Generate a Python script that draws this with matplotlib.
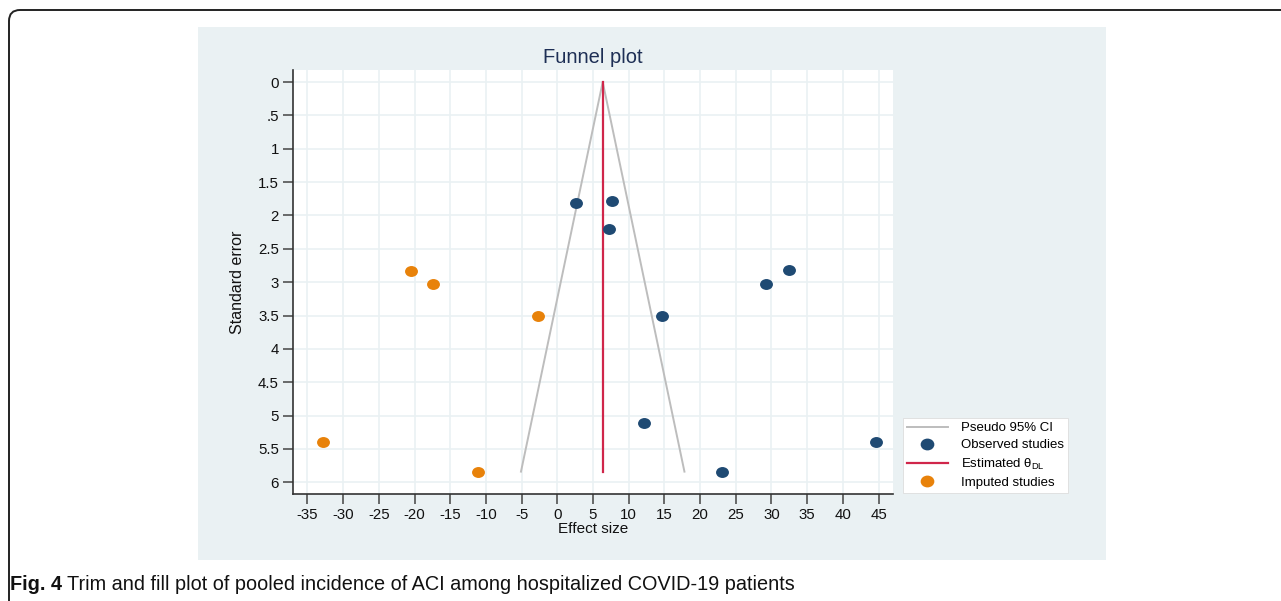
import numpy as np
import matplotlib.pyplot as plt
from matplotlib.lines import Line2D
from matplotlib.markers import MarkerStyle
from matplotlib.patches import PathPatch, Rectangle
from matplotlib.path import Path
from matplotlib.transforms import Affine2D

# observed studies (effect size, standard error)
obs_es = [2.6, 7.7, 7.2, 14.7, 29.3, 32.4, 12.2, 23.1, 44.7]
obs_se = [1.81, 1.79, 2.20, 3.50, 3.03, 2.82, 5.11, 5.85, 5.40]

# imputed (trim and fill) studies
imp_es = [-20.5, -17.4, -2.75, -32.8, -11.1]
imp_se = [2.83, 3.03, 3.51, 5.39, 5.84]

theta_dl = 6.36
se_max = 5.84

x_ticks = list(range(-35, 50, 5))
y_ticks = [0, 0.5, 1, 1.5, 2, 2.5, 3, 3.5, 4, 4.5, 5, 5.5, 6]
y_tick_labels = ["0", ".5", "1", "1.5", "2", "2.5", "3", "3.5", "4", "4.5", "5", "5.5", "6"]

NAVY = "#1F4A73"
ORANGE = "#E8820A"
RED = "#D0264A"
GRAY = "#BDBDBD"
PANEL = "#EAF1F3"

plt.rcParams["font.family"] = ["Liberation Sans", "DejaVu Sans"]
plt.rcParams["axes.unicode_minus"] = False

W, H = 1281, 601
fig = plt.figure(figsize=(W / 100, H / 100), dpi=100)


def fx(px):
    return px / W


def fy(py):
    return 1 - py / H


# outer frame of the journal figure: left and top edges with a rounded corner
px_trans = Affine2D().scale(1, -1).translate(0, H)
frame_path = Path([(9, 620), (9, 21), (9, 10), (20, 10), (1300, 10)],
                  [Path.MOVETO, Path.LINETO, Path.CURVE3, Path.CURVE3, Path.LINETO])
fig.patches.append(PathPatch(frame_path, transform=px_trans, fill=False,
                             edgecolor="#222222", linewidth=1.4))

# graph region
fig.patches.append(Rectangle((fx(198), fy(560)), fx(1106) - fx(198), fy(27) - fy(560),
                             transform=fig.transFigure, facecolor=PANEL,
                             edgecolor="none", zorder=0))

ax = fig.add_axes([fx(292.7), fy(494.3), fx(893.3) - fx(292.7), fy(70) - fy(494.3)])
ax.set_zorder(2)
ax.set_facecolor("white")

ax.set_xlim(-37.06, 47.06)
ax.set_ylim(6.18, -0.18)

ax.set_xticks(x_ticks)
ax.set_yticks(y_ticks)
ax.set_yticklabels(y_tick_labels)
ax.grid(True, color="#EAF1F3", linewidth=1.2)
ax.set_axisbelow(True)

for s in ["top", "right"]:
    ax.spines[s].set_visible(False)
for s in ["left", "bottom"]:
    ax.spines[s].set_color("#333333")
    ax.spines[s].set_linewidth(1.2)

ax.tick_params(axis="both", length=7, width=1.1, color="#444444",
               labelsize=10.8, labelcolor="#111111")
ax.tick_params(axis="y", pad=3)
ax.tick_params(axis="x", pad=3)

# pseudo 95% CI funnel
ax.plot([theta_dl - 1.96 * se_max, theta_dl, theta_dl + 1.96 * se_max],
        [se_max, 0, se_max], color=GRAY, linewidth=1.4, zorder=2)

# estimated effect
ax.plot([theta_dl, theta_dl], [0, se_max], color=RED, linewidth=1.6, zorder=3)

dot = MarkerStyle("o", transform=Affine2D().scale(1.18, 1.0))
ax.scatter(obs_es, obs_se, s=62, marker=dot, color=NAVY, linewidths=0, zorder=4)
ax.scatter(imp_es, imp_se, s=62, marker=dot, color=ORANGE, linewidths=0, zorder=4)

ax.set_title("Funnel plot", fontsize=14.5, color="#1E2F55", pad=5)
ax.set_xlabel("Effect size", fontsize=11, color="#111111", labelpad=0)
ax.set_ylabel("Standard error", fontsize=11.5, color="#111111", labelpad=9)

handles = [
    Line2D([], [], color=GRAY, linewidth=1.4),
    Line2D([], [], linestyle="none", marker=dot, markersize=7.5, color=NAVY),
    Line2D([], [], color=RED, linewidth=1.6),
    Line2D([], [], linestyle="none", marker=dot, markersize=7.5, color=ORANGE),
]
labels = ["Pseudo 95% CI", "Observed studies",
          "Estimated θ$_{\\mathregular{DL}}$", "Imputed studies"]
leg = fig.legend(handles, labels, loc="upper left",
                 bbox_to_anchor=(fx(903), fy(418)), fontsize=9.5,
                 frameon=True, fancybox=False, edgecolor="#DDDDDD",
                 framealpha=1, facecolor="white",
                 handlelength=3.1, handletextpad=1.0, labelspacing=0.38,
                 borderpad=0.3, borderaxespad=0)
leg.get_frame().set_linewidth(0.6)
leg.set_zorder(5)

# caption
cap_font = ["Liberation Sans", "DejaVu Sans"]
t1 = fig.text(fx(10), fy(584), "Fig. 4", fontsize=14.3, fontweight="bold",
              family=cap_font, va="center", ha="left", color="#111111")
fig.canvas.draw()
bb = t1.get_window_extent()
fig.text(bb.x1 / W + fx(5), fy(584), "Trim and fill plot of pooled incidence of ACI among hospitalized COVID-19 patients",
         fontsize=14.3, family=cap_font, va="center", ha="left", color="#111111")

fig.savefig("out.png", dpi=100)
